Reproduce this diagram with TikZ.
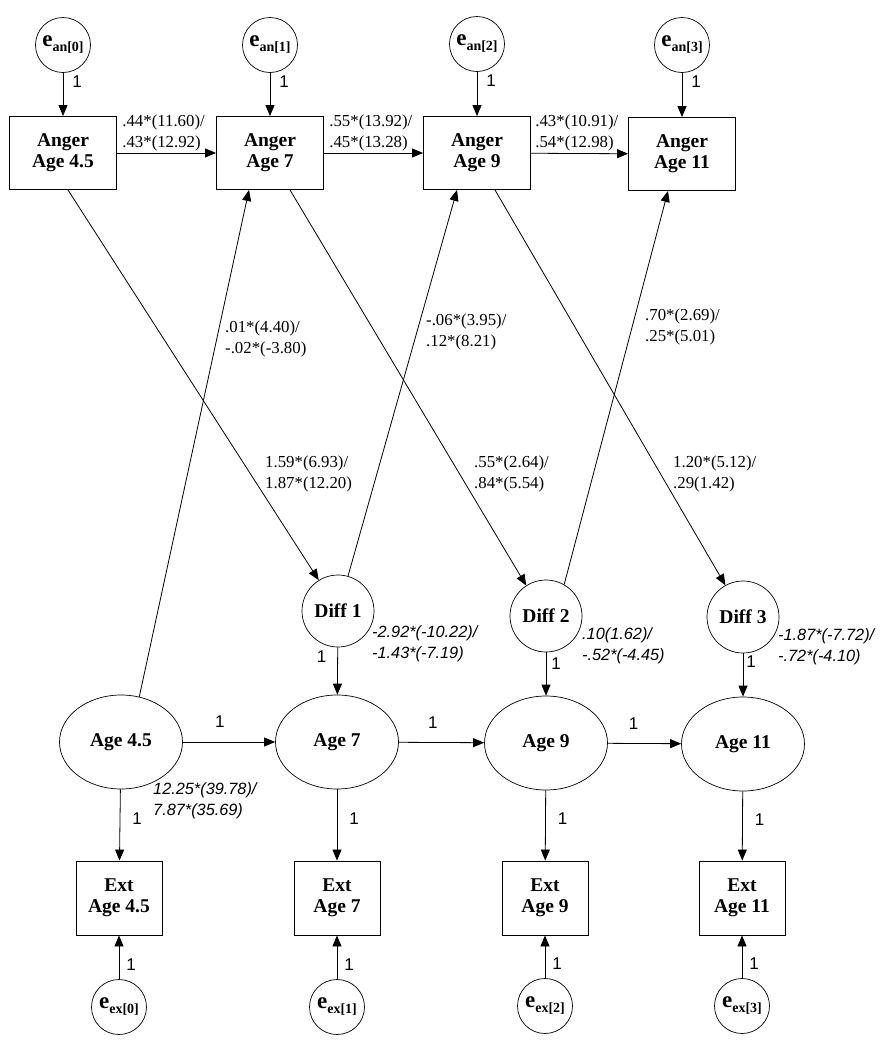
\documentclass[tikz,border=0pt]{standalone}
\usepackage{fontspec}
\setmainfont{Liberation Serif}
\setsansfont{Liberation Sans}
\usetikzlibrary{shapes,arrows,positioning,calc,arrows.meta}
\newcommand{\evar}[2]{{\fontsize{23}{23}\selectfont e}\raisebox{-5pt}{\fontsize{14}{14}\selectfont #1[#2]}}

\begin{document}
\begin{tikzpicture}[x=1pt,y=-1pt,
    obs/.style={rectangle,draw,line width=0.9pt,minimum width=107pt,minimum height=73pt,inner sep=0pt,align=center,font=\bfseries\fontsize{19.5}{21}\selectfont},
    ext/.style={obs,minimum width=86pt,minimum height=74pt},
    err/.style={circle,draw,line width=0.7pt,minimum size=55pt,inner sep=0pt,font=\bfseries},
    lat/.style={ellipse,draw,line width=0.7pt,minimum width=123pt,minimum height=94pt,inner sep=0pt,font=\bfseries\fontsize{19.5}{21}\selectfont},
    dif/.style={circle,draw,line width=0.7pt,minimum size=72pt,inner sep=0pt,font=\bfseries\fontsize{19.5}{21}\selectfont},
    coef/.style={inner sep=0pt,align=left,font=\fontsize{16.8}{21}\selectfont},
    vari/.style={inner sep=0pt,align=left,font=\sffamily\itshape\fontsize{16.3}{21}\selectfont},
    one/.style={inner sep=0pt,font=\sffamily\fontsize{17}{17}\selectfont},
    arr/.style={-{Triangle[length=11pt,width=9pt]},line width=0.8pt}
  ]
  \useasboundingbox (0,0) rectangle (892,1050);

  \node[err] (ea0) at (63,45) {\evar{an}{0}};
  \node[err] (ea1) at (270,45) {\evar{an}{1}};
  \node[err] (ea2) at (477,44) {\evar{an}{2}};
  \node[err] (ea3) at (682,45) {\evar{an}{3}};

  \node[obs] (an0) at (63,153) {Anger\\Age 4.5};
  \node[obs] (an1) at (270,153) {Anger\\Age 7};
  \node[obs] (an2) at (477,153) {Anger\\Age 9};
  \node[obs] (an3) at (682,154) {Anger\\Age 11};

  \node[dif] (dif1) at (338,611) {Diff 1};
  \node[dif] (dif2) at (546,616) {Diff 2};
  \node[dif] (dif3) at (743,617) {Diff 3};

  \node[lat] (age0) at (121,742) {Age 4.5};
  \node[lat] (age1) at (337,742) {Age 7};
  \node[lat] (age2) at (546,743) {Age 9};
  \node[lat] (age3) at (743,744) {Age 11};

  \node[ext] (ex0) at (119,898) {Ext\\Age 4.5};
  \node[ext] (ex1) at (337,898) {Ext\\Age 7};
  \node[ext] (ex2) at (545,898) {Ext\\Age 9};
  \node[ext] (ex3) at (742,898) {Ext\\Age 11};

  \node[err] (ee0) at (119,1007) {\evar{ex}{0}};
  \node[err] (ee1) at (337,1007) {\evar{ex}{1}};
  \node[err] (ee2) at (545,1006) {\evar{ex}{2}};
  \node[err] (ee3) at (742,1006) {\evar{ex}{3}};

  \draw[arr] (ea0) -- node[one,pos=0.2,right=9pt] {1} (an0);
  \draw[arr] (ea1) -- node[one,pos=0.2,right=9pt] {1} (an1);
  \draw[arr] (ea2) -- node[one,pos=0.2,right=9pt] {1} (an2);
  \draw[arr] (ea3) -- node[one,pos=0.2,right=9pt] {1} (an3);

  \draw[arr] (an0) -- node[coef,pos=0,anchor=south west,xshift=5pt,yshift=2pt] {.44*(11.60)/\\.43*(12.92)} (an1);
  \draw[arr] (an1) -- node[coef,pos=0,anchor=south west,xshift=5pt,yshift=2pt] {.55*(13.92)/\\.45*(13.28)} (an2);
  \draw[arr] (an2) -- node[coef,pos=0,anchor=south west,xshift=4pt,yshift=2pt] {.43*(10.91)/\\.54*(12.98)} (an3);

  \draw[arr] ([xshift=5pt]an0.south) -- (dif1.122);
  \draw[arr] (age0.68) -- ([xshift=-21pt]an1.south);
  \draw[arr] ([xshift=20pt]an1.south) -- (dif2.123);
  \draw[arr] (dif1.74) -- ([xshift=-20pt]an2.south);
  \draw[arr] ([xshift=18pt]an2.south) -- (dif3.119);
  \draw[arr] (dif2.60) -- ([xshift=-14pt]an3.south);

  \node[coef,anchor=west] (c1) at (225,339) {.01*(4.40)/\\-.02*(-3.80)};
  \node[coef,anchor=west] (c2) at (426,332) {-.06*(3.95)/\\.12*(8.21)};
  \node[coef,anchor=west] (c3) at (645,327) {.70*(2.69)/\\.25*(5.01)};
  \node[coef,anchor=west] (c4) at (265,474) {1.59*(6.93)/\\1.87*(12.20)};
  \node[coef,anchor=west] (c5) at (474,474) {.55*(2.64)/\\.84*(5.54)};
  \node[coef,anchor=west] (c6) at (673,474) {1.20*(5.12)/\\.29(1.42)};

  \draw[arr] (dif1) -- node[one,pos=0.2,left=11pt] {1} (age1);
  \draw[arr] (dif2) -- node[one,pos=0.25,right=5pt] {1} (age2);
  \draw[arr] (dif3) -- node[one,pos=0.2,right=3pt] {1} (age3);

  \node[vari,anchor=west] (v1) at (372,644) {-2.92*(-10.22)/\\-1.43*(-7.19)};
  \node[vari,anchor=west] (v2) at (582,646) {.10(1.62)/\\-.52*(-4.45)};
  \node[vari,anchor=west] (v3) at (778,647) {-1.87*(-7.72)/\\-.72*(-4.10)};
  \node[vari,anchor=west] (v0) at (153,801) {12.25*(39.78)/\\7.87*(35.69)};

  \draw[arr] (age0) -- node[one,pos=0.4,above=14pt] {1} (age1);
  \draw[arr] (age1) -- node[one,pos=0.4,above=14pt] {1} (age2);
  \draw[arr] (age2) -- node[one,pos=0.35,above=14pt] {1} (age3);

  \draw[arr] (age0) -- node[one,pos=0.41,right=12pt] {1} (ex0);
  \draw[arr] (age1) -- node[one,pos=0.41,right=12pt] {1} (ex1);
  \draw[arr] (age2) -- node[one,pos=0.41,right=12pt] {1} (ex2);
  \draw[arr] (age3) -- node[one,pos=0.41,right=12pt] {1} (ex3);

  \draw[arr] (ee0) -- node[one,pos=0.33,right=7pt] {1} (ex0);
  \draw[arr] (ee1) -- node[one,pos=0.33,right=7pt] {1} (ex1);
  \draw[arr] (ee2) -- node[one,pos=0.33,right=7pt] {1} (ex2);
  \draw[arr] (ee3) -- node[one,pos=0.33,right=7pt] {1} (ex3);

\end{tikzpicture}
\end{document}
